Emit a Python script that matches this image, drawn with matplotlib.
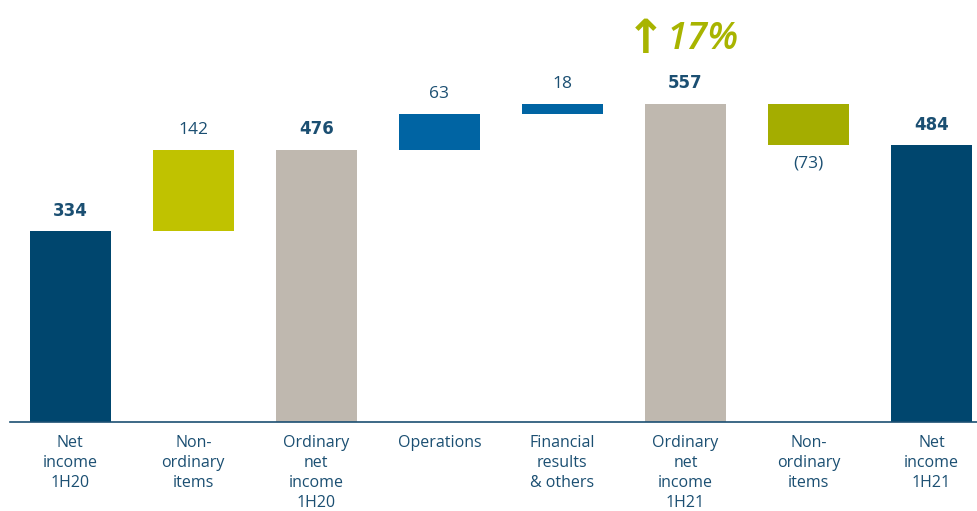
import numpy as np
import matplotlib.pyplot as plt
from matplotlib.transforms import blended_transform_factory

# Datos del puente de beneficio neto (millones)
categorias = ["Net\nincome\n1H20", "Non-\nordinary\nitems", "Ordinary\nnet\nincome\n1H20",
              "Operations", "Financial\nresults\n& others", "Ordinary\nnet\nincome\n1H21",
              "Non-\nordinary\nitems", "Net\nincome\n1H21"]
valores = [334, 142, 476, 63, 18, 557, -73, 484]
es_total = [True, False, True, False, False, True, False, True]
etiquetas = ["334", "142", "476", "63", "18", "557", "(73)", "484"]
colores = ["#00466E", "#C0C200", "#BFB8AF", "#0064A3", "#0064A3", "#BFB8AF", "#A4AD00", "#00466E"]
crecimiento = "17%"

color_texto = "#1B4F72"
color_verde = "#A8B400"
plt.rcParams['font.family'] = ['Open Sans', 'DejaVu Sans']

fig = plt.figure(figsize=(9.77, 5.11), dpi=100)
ax = fig.add_axes([0.0102, 0.174, 0.9898, 0.826])

# calcular bases de la cascada
bases = []
acumulado = 0
for v, tot in zip(valores, es_total):
    if tot:
        bases.append(0)
        acumulado = v
    else:
        bases.append(acumulado if v > 0 else acumulado + v)
        acumulado += v
alturas = [abs(v) for v in valores]

x = np.arange(len(valores))
ax.bar(x, alturas, bottom=bases, width=0.66, color=colores, linewidth=0)

for i in range(len(valores)):
    if es_total[i]:
        ax.text(x[i], bases[i] + alturas[i] + 20, etiquetas[i], ha='center', va='bottom',
                fontsize=12, color=color_texto, fontweight='bold', family='DejaVu Sans')
    elif valores[i] >= 0:
        ax.text(x[i], bases[i] + alturas[i] + 20, etiquetas[i], ha='center', va='bottom',
                fontsize=12.5, color=color_texto)
    else:
        ax.text(x[i], bases[i] - 18, etiquetas[i], ha='center', va='top',
                fontsize=12.5, color=color_texto)

trans = blended_transform_factory(ax.transData, ax.transAxes)
for i, cat in enumerate(categorias):
    ax.text(x[i], -0.03, cat, transform=trans, ha='center', va='top',
            fontsize=11.5, color=color_texto, linespacing=1.35)

# flecha de crecimiento
ax.text(x[5] - 0.32, 668, "↑", ha='center', va='center', fontsize=34,
        color=color_verde, fontweight='bold', family='DejaVu Sans')
ax.text(x[5] + 0.14, 670, crecimiento, ha='center', va='center', fontsize=27,
        color=color_verde, style='italic', fontweight='semibold')

ax.set_xlim(-0.49, 7.37)
ax.set_ylim(0, 738)
for s in ['top', 'right', 'left']:
    ax.spines[s].set_visible(False)
ax.spines['bottom'].set_color("#1B4F72")
ax.spines['bottom'].set_linewidth(1.2)
ax.set_xticks([])
ax.set_yticks([])

fig.savefig("out.png", dpi=100)
